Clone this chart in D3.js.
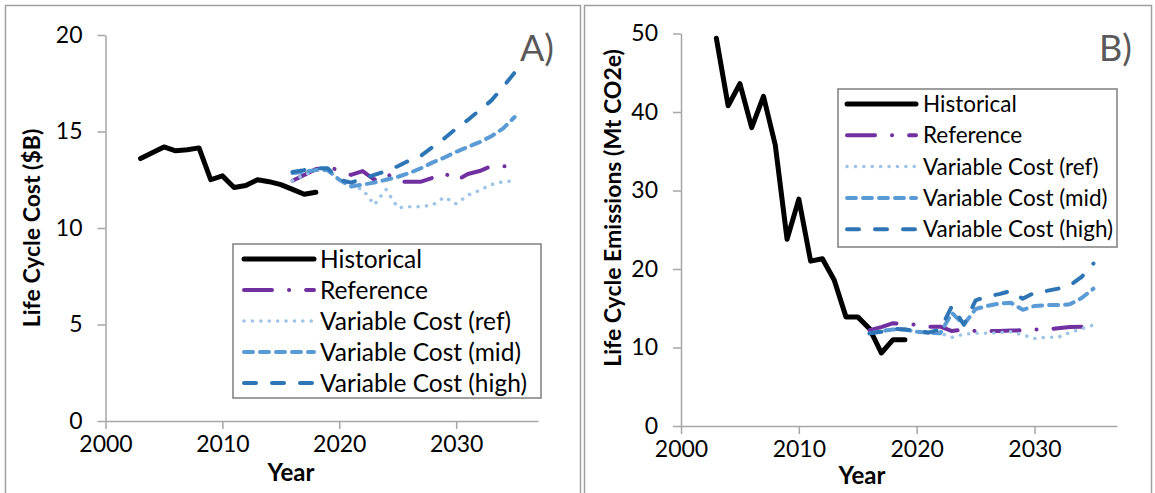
<!DOCTYPE html>
<html>
<head>
<meta charset="utf-8">
<script src="https://cdn.jsdelivr.net/npm/d3@7"></script>
<style>
  body { margin: 0; background: #fff; }
  svg text { font-family: Lato, "Open Sans", sans-serif; fill: #000; }
</style>
</head>
<body>
<svg id="chart" width="1155" height="493"></svg>
<script>

const xTicks = [2000, 2010, 2020, 2030];
const costTicks = [0, 5, 10, 15, 20];
const emisTicks = [0, 10, 20, 30, 40, 50];

const seriesNames = ['Historical', 'Reference', 'Variable Cost (ref)', 'Variable Cost (mid)', 'Variable Cost (high)'];

// panel A - life cycle cost ($B)
const histYearsA = [2003, 2004, 2005, 2006, 2007, 2008, 2009, 2010, 2011, 2012, 2013, 2014, 2015, 2016, 2017, 2018];
const histCost = [13.6, 13.9, 14.2, 14.0, 14.05, 14.15, 12.5, 12.7, 12.1, 12.2, 12.5, 12.4, 12.25, 12.0, 11.75, 11.85];

const scenYears = [2016, 2017, 2018, 2019, 2020, 2021, 2022, 2023, 2024, 2025, 2026, 2027, 2028, 2029, 2030, 2031, 2032, 2033, 2034, 2035];
const refCost = [12.45, 12.75, 13.05, 13.15, 13.0, 12.75, 12.95, 12.5, 12.85, 12.4, 12.4, 12.4, 12.6, 12.85, 12.45, 12.8, 12.95, 13.2, 13.2, 13.2];
const vcRefCost = [12.45, 12.75, 13.0, 13.05, 12.5, 12.15, 12.0, 11.2, 12.0, 11.05, 11.1, 11.1, 11.2, 11.6, 11.25, 11.7, 11.95, 12.25, 12.4, 12.45];
const vcMidCost = [12.85, 12.9, 13.0, 13.0, 12.5, 12.15, 12.25, 12.35, 12.5, 12.65, 12.85, 13.1, 13.4, 13.65, 13.95, 14.2, 14.45, 14.75, 15.15, 15.75];
const vcHighCost = [12.9, 13.0, 13.1, 13.1, 12.5, 12.35, 12.55, 12.75, 12.95, 13.2, 13.5, 13.75, 14.2, 14.65, 15.15, 15.6, 16.1, 16.6, 17.3, 18.05];

// panel B - life cycle emissions (Mt CO2e)
const histYearsB = [2003, 2004, 2005, 2006, 2007, 2008, 2009, 2010, 2011, 2012, 2013, 2014, 2015, 2016, 2017, 2018, 2019];
const histEmis = [49.4, 40.8, 43.6, 38.0, 42.0, 35.8, 23.8, 28.9, 21.0, 21.3, 18.6, 13.9, 13.9, 12.4, 9.3, 11.0, 11.0];
const refEmis = [12.2, 12.6, 13.1, 13.0, 12.9, 12.65, 12.65, 12.1, 12.3, 12.1, 12.1, 12.1, 12.15, 12.2, 12.3, 12.3, 12.45, 12.6, 12.65, 12.7];
const vcRefEmis = [11.8, 12.1, 12.3, 12.3, 12.0, 11.8, 11.8, 11.3, 11.7, 11.8, 11.8, 11.9, 12.0, 11.6, 11.15, 11.3, 11.3, 11.9, 12.4, 12.85];
const vcMidEmis = [11.8, 12.1, 12.3, 12.3, 12.0, 11.9, 11.8, 14.4, 12.9, 14.9, 15.3, 15.6, 15.7, 14.8, 15.3, 15.4, 15.4, 15.5, 16.3, 17.5];
const vcHighEmis = [11.8, 12.0, 12.4, 12.3, 12.1, 11.9, 12.3, 15.3, 12.9, 16.0, 16.5, 16.8, 17.2, 16.2, 17.0, 17.2, 17.5, 17.9, 19.0, 20.7];

// line look for each series, same order as seriesNames
const lineStyles = [
	{ color: '#000000', width: 5, dash: null },
	{ color: '#7030A0', width: 4, dash: '28,17,0.1,17' },
	{ color: '#9DC3E6', width: 3.5, dash: '0.1,8.3' },
	{ color: '#5B9BD5', width: 4, dash: '9,7' },
	{ color: '#2E75B6', width: 4, dash: '12,16' }
];

const svg = d3.select('#chart');
const axisGrey = '#A6A6A6';
const frameGrey = '#A0A0A0';

// outer frames of the two panels
svg.append('rect').attr('x', 5.5).attr('y', 5.5).attr('width', 575).attr('height', 500)
	.attr('fill', 'none').attr('stroke', frameGrey).attr('stroke-width', 1.5);
svg.append('rect').attr('x', 584.5).attr('y', 5.5).attr('width', 567).attr('height', 500)
	.attr('fill', 'none').attr('stroke', frameGrey).attr('stroke-width', 1.5);

function drawPanel(p) {
	const x = d3.scaleLinear().domain([2000, 2037]).range([p.left, p.right]);
	const y = d3.scaleLinear().domain([0, p.yMax]).range([p.bottom, p.top]);
	const g = svg.append('g');

	//x axis
	const xAxis = g.append('g')
		.attr('transform', `translate(0, ${p.bottom})`)
		.call(d3.axisBottom(x).tickValues(xTicks).tickFormat(d3.format('d')).tickSize(8).tickSizeOuter(0).tickPadding(7));

	//y axis
	const yAxis = g.append('g')
		.attr('transform', `translate(${p.left}, 0)`)
		.call(d3.axisLeft(y).tickValues(p.yTicks).tickSize(8).tickSizeOuter(0).tickPadding(15));

	[xAxis, yAxis].forEach((a) => {
		a.select('.domain').attr('stroke', axisGrey).attr('stroke-width', 1.5);
		a.selectAll('.tick line').attr('stroke', axisGrey).attr('stroke-width', 1.5);
		a.selectAll('.tick text').style('font-size', '23px').attr('fill', '#000');
	});

	// series lines
	const line = d3.line().x((d) => x(d[0])).y((d) => y(d[1]));
	p.series.forEach((s, i) => {
		const st = lineStyles[i];
		g.append('path')
			.datum(s.years.map((yr, k) => [ yr, s.values[k] ]))
			.attr('d', line)
			.attr('fill', 'none')
			.attr('stroke', st.color)
			.attr('stroke-width', st.width)
			.attr('stroke-linecap', 'round')
			.attr('stroke-linejoin', 'round')
			.attr('stroke-dasharray', st.dash);
	});

	// axis titles
	g.append('text')
		.attr('x', p.xTitleX)
		.attr('y', p.xTitleY)
		.attr('text-anchor', 'middle')
		.style('font-size', '24px')
		.style('font-weight', 'bold')
		.text('Year');

	g.append('text')
		.attr('transform', `translate(${p.yTitleX}, ${p.yTitleY}) rotate(-90)`)
		.attr('text-anchor', 'middle')
		.style('font-size', '23px')
		.style('font-weight', 'bold')
		.text(p.yTitle);

	// panel letter
	g.append('text')
		.attr('x', p.tagX)
		.attr('y', p.tagY)
		.style('font-size', '36px')
		.style('fill', '#595959')
		.text(p.tag);

	// legend
	const lg = g.append('g').attr('transform', `translate(${p.legX}, ${p.legY})`);
	lg.append('rect')
		.attr('width', p.legW)
		.attr('height', p.legH)
		.attr('fill', '#fff')
		.attr('stroke', '#7F7F7F')
		.attr('stroke-width', 1.5);
	seriesNames.forEach((name, i) => {
		const st = lineStyles[i];
		const rowY = 15 + i * p.legStep;
		lg.append('line')
			.attr('x1', p.sampleX0).attr('x2', p.sampleX1)
			.attr('y1', rowY).attr('y2', rowY)
			.attr('stroke', st.color)
			.attr('stroke-width', st.width)
			.attr('stroke-linecap', 'round')
			.attr('stroke-dasharray', st.dash);
		lg.append('text')
			.attr('x', p.textX)
			.attr('y', rowY)
			.attr('dy', '0.36em')
			.style('font-size', p.legFont)
			.text(name);
	});
}

drawPanel({
	left: 105.5, right: 538, top: 35, bottom: 421, yMax: 20, yTicks: costTicks,
	yTitle: 'Life Cycle Cost ($B)', yTitleX: 40, yTitleY: 228,
	xTitleX: 291, xTitleY: 481,
	tag: 'A)', tagX: 520, tagY: 61,
	legX: 233, legY: 244, legW: 308, legH: 154, legStep: 31, legFont: '24.5px',
	sampleX0: 11, sampleX1: 81, textX: 87,
	series: [
		{ years: histYearsA, values: histCost },
		{ years: scenYears, values: refCost },
		{ years: scenYears, values: vcRefCost },
		{ years: scenYears, values: vcMidCost },
		{ years: scenYears, values: vcHighCost }
	]
});

drawPanel({
	left: 681, right: 1117, top: 33.5, bottom: 426, yMax: 50, yTicks: emisTicks,
	yTitle: 'Life Cycle Emissions (Mt CO2e)', yTitleX: 621, yTitleY: 208,
	xTitleX: 862, xTitleY: 484,
	tag: 'B)', tagX: 1099, tagY: 61,
	legX: 838, legY: 89, legW: 279, legH: 158, legStep: 31.3, legFont: '22.5px',
	sampleX0: 9, sampleX1: 78, textX: 85,
	series: [
		{ years: histYearsB, values: histEmis },
		{ years: scenYears, values: refEmis },
		{ years: scenYears, values: vcRefEmis },
		{ years: scenYears, values: vcMidEmis },
		{ years: scenYears, values: vcHighEmis }
	]
});
</script>
</body>
</html>
